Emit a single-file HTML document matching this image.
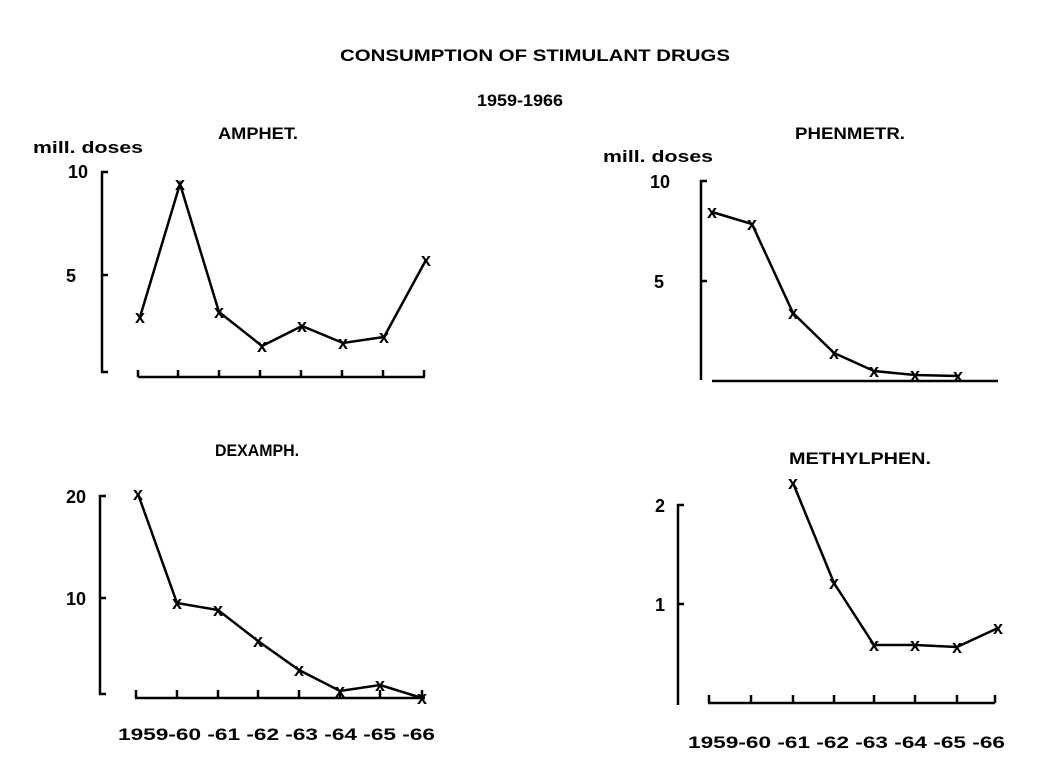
<!DOCTYPE html>
<html><head><style>
body{margin:0;background:#fff}
svg text{font-family:"Liberation Sans",sans-serif;font-weight:bold;fill:#000}
</style></head><body>
<svg width="1040" height="768" viewBox="0 0 1040 768" xmlns="http://www.w3.org/2000/svg">
<g font-size="17" text-anchor="middle">
<text x="535" y="61" textLength="390" lengthAdjust="spacingAndGlyphs">CONSUMPTION OF STIMULANT DRUGS</text>
<text x="520" y="106" textLength="86" lengthAdjust="spacingAndGlyphs">1959-1966</text>
<text x="258" y="139" textLength="80" lengthAdjust="spacingAndGlyphs">AMPHET.</text>
<text x="850" y="139" textLength="110" lengthAdjust="spacingAndGlyphs">PHENMETR.</text>
<text x="257" y="456" textLength="84" lengthAdjust="spacingAndGlyphs">DEXAMPH.</text>
<text x="860" y="464" textLength="142" lengthAdjust="spacingAndGlyphs">METHYLPHEN.</text>
<text x="88" y="153" textLength="110" lengthAdjust="spacingAndGlyphs">mill. doses</text>
<text x="658" y="162" textLength="110" lengthAdjust="spacingAndGlyphs">mill. doses</text>
</g>
<g font-size="18" text-anchor="end">
<text x="88" y="178">10</text><text x="76" y="282">5</text>
<text x="670" y="188">10</text><text x="664" y="288">5</text>
<text x="86" y="503">20</text><text x="86" y="605">10</text>
<text x="665" y="512">2</text><text x="665" y="611">1</text>
</g>
<g font-size="17">
<text x="118" y="740" textLength="317" lengthAdjust="spacingAndGlyphs">1959-60 -61  -62 -63 -64 -65 -66</text>
<text x="688" y="748" textLength="317" lengthAdjust="spacingAndGlyphs">1959-60 -61 -62 -63 -64 -65 -66</text>
</g>
<g stroke="#000" stroke-width="2.5" fill="none">
<path d="M108,172H102V372H108M102,275H108"/>
<path d="M138,377H425M138,377V370M178,377V370M219,377V370M260,377V370M301,377V370M342,377V370M383,377V370M424,377V370"/>
<path d="M707,181H701V380M701,281H707"/>
<path d="M712,381H998"/>
<path d="M106,496H100V694H106M100,598H106"/>
<path d="M135,698H425M136,698V690M177,698V690M218,698V690M258,698V690M299,698V690M340,698V690M380,698V690M422,698V690"/>
<path d="M684,505H678V705M678,604H684"/>
<path d="M708,703H995M709,703V695M751,703V695M793,703V695M834,703V695M874,703V695M915,703V695M957,703V695M995,703V695"/>
<polyline points="140,317 180,184 219,312 262,346 302,326 343,343 384,337 426,260"/>
<polyline points="712,212 752,224 793,313 834,353 874,371 915,375 958,376"/>
<polyline points="138,494 177,603 218,610 258,641 299,670 340,691 380,685 422,698"/>
<polyline points="793,483 834,583 874,645 915,645 957,647 998,628"/>
</g>
<g font-size="18" text-anchor="middle">
<text x="140" y="323">x</text><text x="180" y="190">x</text><text x="219" y="318">x</text><text x="262" y="352">x</text><text x="302" y="332">x</text><text x="343" y="349">x</text><text x="384" y="343">x</text><text x="426" y="266">x</text>
<text x="712" y="218">x</text><text x="752" y="230">x</text><text x="793" y="319">x</text><text x="834" y="359">x</text><text x="874" y="377">x</text><text x="915" y="381">x</text><text x="958" y="382">x</text>
<text x="138" y="500">x</text><text x="177" y="609">x</text><text x="218" y="616">x</text><text x="258" y="647">x</text><text x="299" y="676">x</text><text x="340" y="697">x</text><text x="380" y="691">x</text><text x="422" y="704">x</text>
<text x="793" y="489">x</text><text x="834" y="589">x</text><text x="874" y="651">x</text><text x="915" y="651">x</text><text x="957" y="653">x</text><text x="998" y="634">x</text>
</g>
</svg>
</body></html>
